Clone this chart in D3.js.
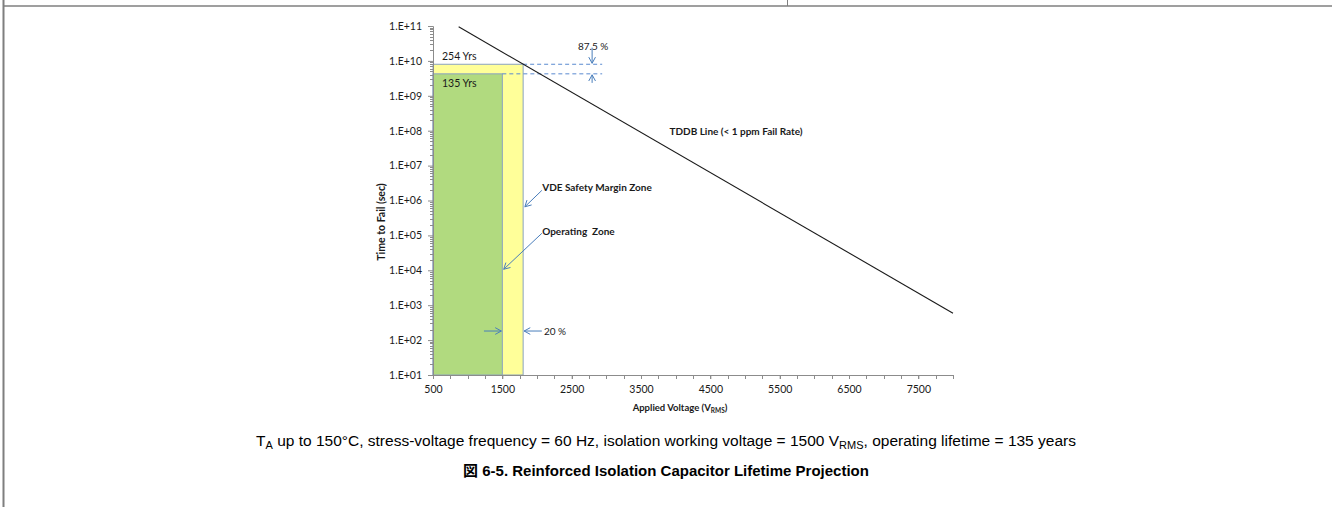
<!DOCTYPE html>
<html>
<head>
<meta charset="utf-8">
<script src="https://cdn.jsdelivr.net/npm/d3@7"></script>
<style>
  body { margin: 0; background: #fff; }
  svg { display: block; }
  text { white-space: pre; }
</style>
</head>
<body>
<svg id="chart" width="1332" height="507"></svg>
<script>
// ---- data ----
const xTickValues = [500, 1500, 2500, 3500, 4500, 5500, 6500, 7500];
const yTickValues = [1e1, 1e2, 1e3, 1e4, 1e5, 1e6, 1e7, 1e8, 1e9, 1e10, 1e11];
const yTickLabels = ["1.E+01", "1.E+02", "1.E+03", "1.E+04", "1.E+05", "1.E+06",
                     "1.E+07", "1.E+08", "1.E+09", "1.E+10", "1.E+11"];
const zoneNames = ["VDE Safety Margin Zone", "Operating  Zone"];
const zoneVoltMax = [1800, 1500];        // V_RMS
const zoneLifeYears = [254, 135];        // years
const zoneColors = ["#ffff99", "#b1da7f"];
const tddbVolts = [870, 8000];           // V_RMS
const tddbSeconds = [9.5e10, 5.9e2];     // time to fail (s)
const secondsPerYear = 3.1536e7;
const marginPct = ["87.5 %", "20 %"];

// ---- layout ----
const svg = d3.select("#chart");
const x = d3.scaleLinear().domain([500, 8000]).range([433, 953]);
const y = d3.scaleLog().domain([1e1, 1e11]).range([375, 26]);
const chartFont = "Lato, 'Open Sans', sans-serif";
const axisColor = "#8c8c8c";
const blue = "#4a7ebb";

// page frame lines
svg.append("line").attr("x1", 3.5).attr("x2", 3.5).attr("y1", 0).attr("y2", 507)
  .attr("stroke", "#7f7f7f").attr("stroke-width", 2);
svg.append("line").attr("x1", 3).attr("x2", 1332).attr("y1", 6).attr("y2", 6)
  .attr("stroke", "#7f7f7f").attr("stroke-width", 1.5);
svg.append("line").attr("x1", 787.5).attr("x2", 787.5).attr("y1", 0).attr("y2", 6)
  .attr("stroke", "#7f7f7f").attr("stroke-width", 1);

// zone rectangles (safety margin behind operating zone)
const zones = zoneNames.map((n, i) => ({
  name: n, v: zoneVoltMax[i], t: zoneLifeYears[i] * secondsPerYear, color: zoneColors[i]
}));
svg.append("g").selectAll("rect").data(zones).join("rect")
  .attr("x", x(500))
  .attr("y", d => y(d.t))
  .attr("width", d => x(d.v) - x(500))
  .attr("height", d => y(1e1) - y(d.t))
  .attr("fill", d => d.color)
  .attr("stroke", "#8aa2c0")
  .attr("stroke-width", 1);

// dashed lifetime levels
svg.append("g").selectAll("line").data(zones).join("line")
  .attr("x1", d => x(d.v)).attr("x2", x(2940))
  .attr("y1", d => y(d.t)).attr("y2", d => y(d.t))
  .attr("stroke", "#5a8ad0").attr("stroke-width", 1).attr("stroke-dasharray", "4,3");

// TDDB line
const tddb = tddbVolts.map((v, i) => [v, tddbSeconds[i]]);
svg.append("path").datum(tddb)
  .attr("d", d3.line().x(d => x(d[0])).y(d => y(d[1])))
  .attr("fill", "none").attr("stroke", "#1a1a1a").attr("stroke-width", 1.1);

// axes
const yAxisG = svg.append("g").attr("transform", `translate(${x(500)},0)`);
const yMinor = [];
for (let e = 1; e < 11; e++) for (let k = 2; k <= 9; k++) yMinor.push(k * Math.pow(10, e));
yAxisG.selectAll("line.minor").data(yMinor).join("line").attr("class", "minor")
  .attr("x1", -3).attr("x2", 0).attr("y1", d => Math.round(y(d)) + 0.5).attr("y2", d => Math.round(y(d)) + 0.5)
  .attr("stroke", axisColor).attr("stroke-width", 1);
yAxisG.call(d3.axisLeft(y).tickValues(yTickValues).tickSize(5).tickPadding(6)
  .tickFormat((d, i) => yTickLabels[i]));
yAxisG.select(".domain").attr("stroke", axisColor);
yAxisG.selectAll(".tick line").attr("stroke", axisColor);
yAxisG.selectAll(".tick text").attr("font-family", chartFont).attr("font-size", 10.5).attr("fill", "#1a1a1a");

const xAxisG = svg.append("g").attr("transform", `translate(0,${y(1e1)})`);
xAxisG.selectAll("line.minor").data(d3.range(500, 8001, 250)).join("line").attr("class", "minor")
  .attr("x1", d => Math.round(x(d)) + 0.5).attr("x2", d => Math.round(x(d)) + 0.5)
  .attr("y1", 0).attr("y2", 4).attr("stroke", axisColor);
xAxisG.call(d3.axisBottom(x).tickValues(xTickValues).tickSize(4).tickPadding(7).tickFormat(d3.format("d")));
xAxisG.select(".domain").attr("stroke", axisColor).attr("d", `M${x(500)},0.5H${x(8000)}`);
xAxisG.selectAll(".tick line").attr("stroke", axisColor);
xAxisG.selectAll(".tick text").attr("font-family", chartFont).attr("font-size", 10.5).attr("fill", "#1a1a1a");

// axis titles
svg.append("text").attr("transform", "translate(385,222) rotate(-90)")
  .attr("text-anchor", "middle").attr("font-family", chartFont).attr("font-weight", "bold")
  .attr("font-size", 10.5).attr("fill", "#1a1a1a").text("Time to Fail (sec)");
const xt = svg.append("text").attr("x", 680).attr("y", 411).attr("text-anchor", "middle")
  .attr("font-family", chartFont).attr("font-weight", "bold").attr("font-size", 9.5).attr("fill", "#1a1a1a");
xt.append("tspan").text("Applied Voltage (V");
xt.append("tspan").attr("font-size", 6.5).attr("dy", 2).text("RMS");
xt.append("tspan").attr("dy", -2).text(")");

// arrow helper: open V head at (x2,y2)
function arrow(x1, y1, x2, y2) {
  const g = svg.append("g").attr("stroke", blue).attr("stroke-width", 1).attr("fill", "none");
  g.append("line").attr("x1", x1).attr("y1", y1).attr("x2", x2).attr("y2", y2);
  const a = Math.atan2(y2 - y1, x2 - x1), L = 7, w = 0.5;
  g.append("path").attr("d",
    `M${x2 - L * Math.cos(a - w)},${y2 - L * Math.sin(a - w)}L${x2},${y2}L${x2 - L * Math.cos(a + w)},${y2 - L * Math.sin(a + w)}`);
}

// lifetime labels
const lbl = (vx, vy, s, opts = {}) => svg.append("text").attr("x", x(vx)).attr("y", y(vy))
  .attr("font-family", chartFont).attr("font-size", opts.size || 10.5)
  .attr("font-weight", opts.bold ? "bold" : "normal")
  .attr("text-anchor", opts.anchor || "start").attr("dominant-baseline", opts.base || "auto")
  .attr("fill", "#1a1a1a").text(s);

lbl(630, Math.pow(10, 10.03), zoneLifeYears[0] + " Yrs");
lbl(630, Math.pow(10, 9.26), zoneLifeYears[1] + " Yrs");

// 87.5 % margin between lifetimes
lbl(2810, Math.pow(10, 10.43), marginPct[0], { anchor: "middle", base: "central", size: 10 });
arrow(x(2795), y(Math.pow(10, 10.38)), x(2795), y(zones[0].t) - 1);
arrow(x(2795), y(Math.pow(10, 9.37)), x(2795), y(zones[1].t) + 1);

// 20 % voltage margin
const yMid = Math.pow(10, 2.26);
arrow(x(1235), y(yMid), x(1500) - 1, y(yMid));
arrow(x(2070), y(yMid), x(1800) + 1, y(yMid));
lbl(2100, yMid, marginPct[1], { base: "central", size: 10 });

// zone call-outs
lbl(2075, Math.pow(10, 6.39), zoneNames[0], { bold: true, base: "central", size: 10 });
arrow(x(2070), y(Math.pow(10, 6.29)), x(1825), y(Math.pow(10, 5.82)));
lbl(2075, Math.pow(10, 5.13), zoneNames[1], { bold: true, base: "central", size: 10 });
arrow(x(2070), y(Math.pow(10, 5.06)), x(1520), y(Math.pow(10, 4.03)));

// TDDB label
lbl(3910, Math.pow(10, 7.99), "TDDB Line (< 1 ppm Fail Rate)", { bold: true, base: "central", size: 10 });

// caption lines
const cap = svg.append("text").attr("x", 666).attr("y", 446).attr("text-anchor", "middle")
  .attr("font-family", "'Liberation Sans', Arial, sans-serif").attr("font-size", 15.5).attr("fill", "#000");
cap.append("tspan").text("T");
cap.append("tspan").attr("font-size", 11).attr("dy", 3).text("A");
cap.append("tspan").attr("dy", -3).text(" up to 150°C, stress-voltage frequency = 60 Hz, isolation working voltage = 1500 V");
cap.append("tspan").attr("font-size", 11).attr("dy", 3).text("RMS");
cap.append("tspan").attr("dy", -3).text(", operating lifetime = 135 years");

svg.append("text").attr("x", 666).attr("y", 476).attr("text-anchor", "middle")
  .attr("font-family", "'Liberation Sans', 'Noto Sans CJK JP', Arial, sans-serif")
  .attr("font-weight", "bold").attr("font-size", 15).attr("fill", "#000")
  .text("図 6-5. Reinforced Isolation Capacitor Lifetime Projection");
</script>
</body>
</html>
